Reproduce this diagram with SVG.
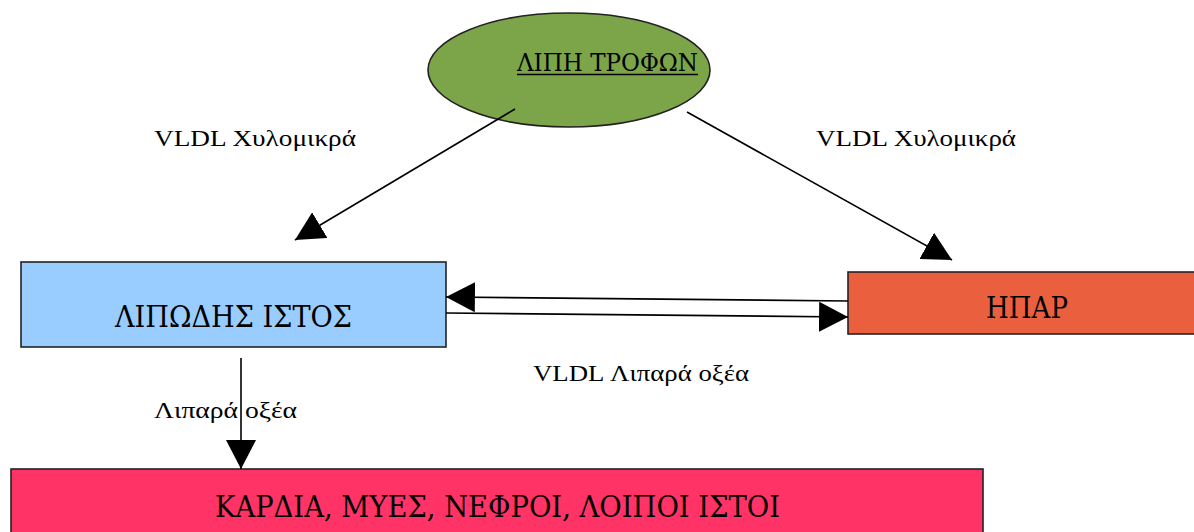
<svg xmlns="http://www.w3.org/2000/svg" width="1194" height="532" viewBox="0 0 1194 532">
<style>
text{font-family:"Liberation Serif","DejaVu Serif",serif;fill:#000}
.gr{font-family:"DejaVu Serif","Liberation Serif",serif}
.lbl{font-size:23px}
.box{font-size:30px}
.conn line{stroke:#000;stroke-width:1.6;fill:none}
.node{stroke:#222;stroke-width:1.6}
</style>
<defs>
<marker id="ah" markerUnits="userSpaceOnUse" markerWidth="30" markerHeight="30" viewBox="0 0 28 28" refX="27" refY="14" orient="auto">
<path d="M0,0 L27,14 L0,28 Z" fill="#000"/>
</marker>
</defs>
<rect width="1194" height="532" fill="#fff"/>
<g id="lipi-trofon">
<ellipse class="node" cx="569" cy="70" rx="141" ry="57" fill="#7ba548"/>
<text class="gr" x="517" y="71" font-size="25" textLength="181" lengthAdjust="spacingAndGlyphs">ΛΙΠΗ ΤΡΟΦΩΝ</text>
<line x1="517" y1="74.5" x2="698" y2="74.5" stroke="#000" stroke-width="1.5"/>
</g>
<g id="lipodis-istos">
<rect class="node" x="21" y="262" width="425" height="85" fill="#99ccff"/>
<text class="box gr" x="115" y="327" textLength="237" lengthAdjust="spacingAndGlyphs">ΛΙΠΩΔΗΣ ΙΣΤΟΣ</text>
</g>
<g id="ipar">
<rect class="node" x="848" y="272" width="360" height="62" fill="#ea603f"/>
<text class="box gr" x="986" y="318" textLength="82" lengthAdjust="spacingAndGlyphs">ΗΠΑΡ</text>
</g>
<g id="kardia">
<rect class="node" x="11" y="469" width="972" height="80" fill="#ff3366"/>
<text class="box gr" x="215" y="517" textLength="565" lengthAdjust="spacingAndGlyphs">ΚΑΡΔΙΑ, ΜΥΕΣ, ΝΕΦΡΟΙ, ΛΟΙΠΟΙ ΙΣΤΟΙ</text>
</g>
<g id="connectors" class="conn">
<line x1="515" y1="109" x2="295" y2="240" marker-end="url(#ah)"/>
<line x1="687" y1="112" x2="952" y2="260" marker-end="url(#ah)"/>
<line x1="848" y1="301" x2="446" y2="297" marker-end="url(#ah)"/>
<line x1="446" y1="313" x2="848" y2="317" marker-end="url(#ah)"/>
<line x1="241" y1="358" x2="241" y2="469" marker-end="url(#ah)"/>
</g>
<g id="labels">
<text class="lbl" x="154" y="146" textLength="202" lengthAdjust="spacingAndGlyphs">VLDL Χυλομικρά</text>
<text class="lbl" x="816" y="146" textLength="200" lengthAdjust="spacingAndGlyphs">VLDL Χυλομικρά</text>
<text class="lbl" x="533" y="381" textLength="216" lengthAdjust="spacingAndGlyphs">VLDL Λιπαρά οξέα</text>
<text class="lbl" x="154" y="418" textLength="143" lengthAdjust="spacingAndGlyphs">Λιπαρά οξέα</text>
</g>
</svg>
